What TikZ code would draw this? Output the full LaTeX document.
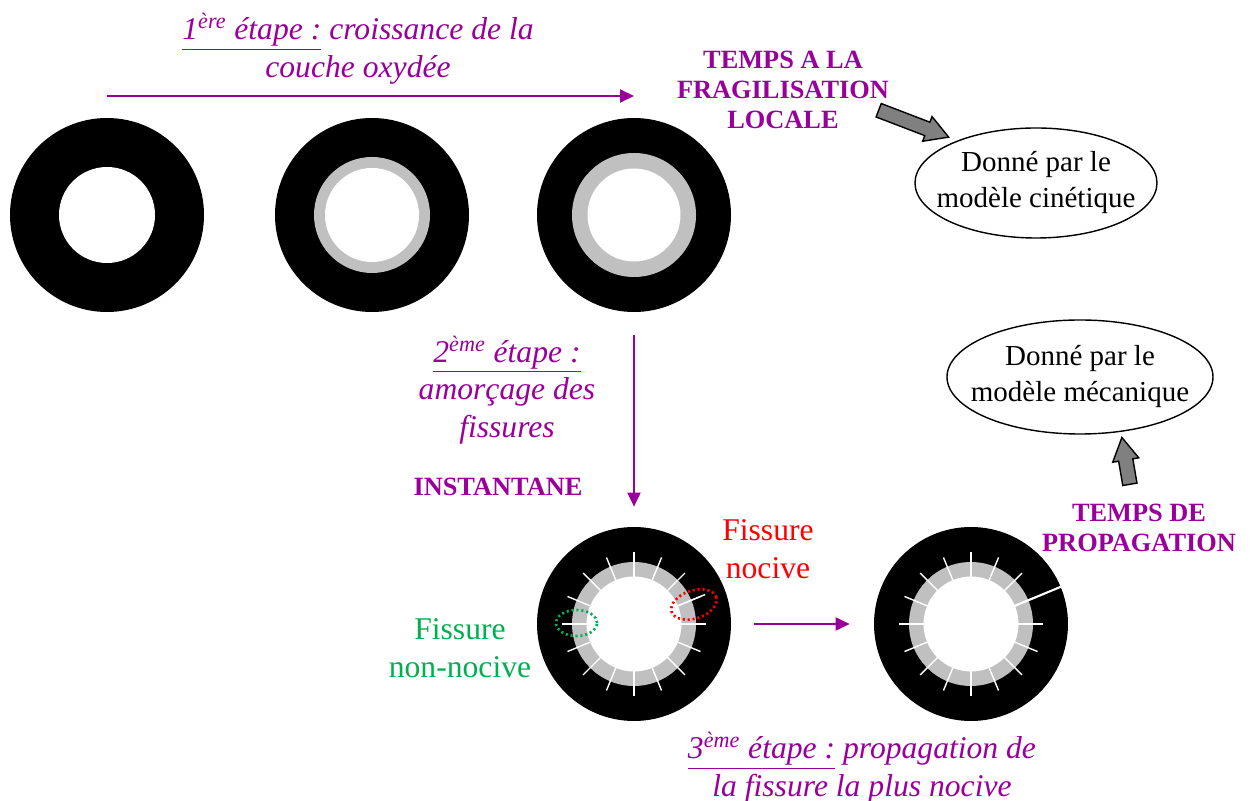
\documentclass[tikz,border=0pt]{standalone}
\usepackage{fontspec}
\setmainfont{Liberation Serif}
\usepackage{tikz}
\usetikzlibrary{shapes.geometric, shapes.arrows, arrows.meta, positioning, calc}
\definecolor{stepviolet}{RGB}{153,0,153}
\definecolor{oxgray}{RGB}{192,192,192}
\definecolor{okgreen}{RGB}{0,176,80}

\begin{document}
\begin{tikzpicture}[
    ring/.style={circle, fill=black, minimum size=3.88cm, inner sep=0pt},
    flow/.style={-{Triangle[length=0.28cm, width=0.26cm]}, color=stepviolet, line width=1.1pt},
    steptxt/.style={text=stepviolet, font=\fontsize{18}{21.5}\selectfont\itshape, align=center},
    timetxt/.style={text=stepviolet, font=\fontsize{15}{17}\selectfont\bfseries, align=center},
    fistxt/.style={font=\fontsize{18}{21.5}\selectfont, align=center},
    model/.style={inner sep=0pt, font=\fontsize{16.5}{20.5}\selectfont, align=center},
    rim/.style={line width=0.8pt},
    crack/.style={white, line width=0.8pt},
    spot/.style={line width=1.5pt, dash pattern=on 1.2pt off 1.6pt},
    bigarrow/.style={single arrow, draw, fill=gray, line width=0.8pt, inner sep=0.13cm,
                     single arrow head extend=0.12cm, single arrow tip angle=60, anchor=tail},
]
\useasboundingbox (0,0) rectangle (25.02,16.02);

% first row: growth of the oxide layer
\node[ring] (r1) at (2.14,11.72) {};
\fill[white] (r1.center) circle (0.96);
\node[ring] (r2) at (7.44,11.72) {};
\fill[oxgray] (r2.center) circle (1.16);
\fill[white] (r2.center) circle (0.94);
\node[ring] (r3) at (12.68,11.72) {};
\fill[oxgray] (r3.center) circle (1.24);
\fill[white] (r3.center) circle (0.93);

% second row: cracked layers
\node[ring] (b1) at (12.68,3.54) {};
\node[ring] (b2) at (19.42,3.54) {};
\foreach \c in {b1,b2} {
  \fill[oxgray] (\c.center) circle (1.24);
  \fill[white] (\c.center) circle (0.95);
  \foreach \a in {0,22.5,...,337.5}
    \draw[crack, shift={(\c.center)}] (\a:0.94) -- (\a:1.44);
}
\draw[crack, shift={(b1.center)}] (22.5:0.94) -- (22.5:1.54);
\draw[crack, line width=1.2pt, shift={(b2.center)}] (22.5:0.94) -- (22.5:1.95);
\draw[spot, red, rotate around={18:(13.88,3.93)}] (13.88,3.93) ellipse (0.47 and 0.28);
\draw[spot, okgreen] (11.53,3.56) ellipse (0.41 and 0.26);

% texts
\node[steptxt] (step1) at (7.16,15.04) {\underline{1\textsuperscript{ère} étape :} croissance de la\\couche oxydée};
\node[timetxt] (tfrag) at (15.66,14.22) {TEMPS A LA\\FRAGILISATION\\LOCALE};
\node[model] (kin) at (20.72,12.36) {Donné par le\\modèle cinétique};
\draw[rim] (kin.center) ellipse (2.42 and 1.1);
\node[steptxt] (step2) at (10.14,8.22) {\underline{2\textsuperscript{ème} étape :}\\amorçage des\\fissures};
\node[timetxt] (tinst) at (9.96,6.28) {INSTANTANE};
\node[model] (meca) at (21.60,8.48) {Donné par le\\modèle mécanique};
\draw[rim] (meca.center) ellipse (2.66 and 1.14);
\node[timetxt] (tprop) at (22.78,5.46) {TEMPS DE\\PROPAGATION};
\node[fistxt, text=red] (fnoc) at (15.36,5.04) {Fissure\\nocive};
\node[fistxt, text=okgreen] (fok) at (9.20,3.06) {Fissure\\non-nocive};
\node[steptxt] (step3) at (17.24,0.66) {\underline{3\textsuperscript{ème} étape :} propagation de\\la fissure la plus nocive};

% arrows
\draw[flow] ([yshift=2.38cm]r1.center) -- ([yshift=2.38cm]r3.center);
\draw[flow, shorten <=0.46cm, shorten >=0.40cm] (r3) -- (b1);
\draw[flow, shorten <=0.46cm, shorten >=0.48cm] (b1) -- (b2);
\node[bigarrow, minimum height=1.5cm, rotate=-21] (akin) at (17.56,13.82) {};
\node[bigarrow, minimum height=0.95cm, rotate=99.7] (ameca) at (22.60,6.32) {};
\end{tikzpicture}
\end{document}
